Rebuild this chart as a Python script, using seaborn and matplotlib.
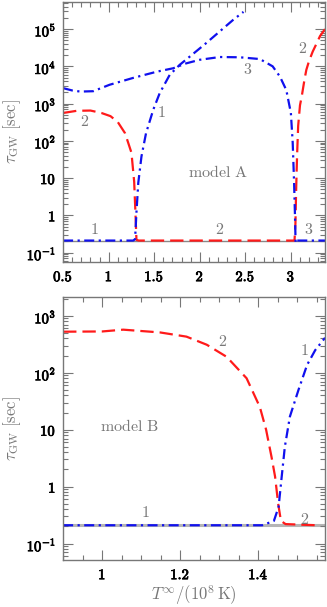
import seaborn as sns
import matplotlib.pyplot as plt
import matplotlib.ticker as mticker
import matplotlib.patheffects as pe
import pandas as pd
import numpy as np

# -----------------------------
# Data
# -----------------------------
# model A
a_red_x = [0.5, 0.65, 0.8, 0.92, 1.02, 1.1, 1.18, 1.25, 1.28, 1.295, 1.305, 1.33, 2.0, 3.04,
           3.05, 3.058, 3.068, 3.08, 3.1, 3.12, 3.15, 3.17, 3.2, 3.24, 3.28, 3.32, 3.375]
a_red_y = [560, 640, 650, 560, 460, 320, 160, 48, 8, 1, 0.22, 0.21, 0.21, 0.21,
           0.6, 5, 40, 250, 900, 1600, 4500, 8100, 14000, 25000, 40000, 65000, 100000]

a_blue1_x = [0.5, 1.0, 1.27, 1.29, 1.305, 1.325, 1.36, 1.41, 1.49, 1.56, 1.67, 1.78, 1.91,
             2.07, 2.22, 2.37, 2.48]
a_blue1_y = [0.21, 0.21, 0.21, 0.23, 1.2, 7.4, 38, 160, 690, 1900, 5900, 11000, 20000,
             42000, 87000, 180000, 290000]

a_blue3_x = [0.5, 0.6, 0.69, 0.83, 1.01, 1.27, 1.53, 1.71, 1.85, 2.0, 2.22, 2.44, 2.66,
             2.8, 2.88, 2.95, 3.0, 3.02, 3.035, 3.045, 3.052, 3.065, 3.375]
a_blue3_y = [2600, 2250, 2100, 2150, 3200, 4900, 7200, 8900, 12000, 15000, 17800, 17500,
             15700, 10000, 5300, 2300, 560, 90, 8, 1, 0.18, 0.21, 0.21]

# model B
b_red_x = [0.9, 1.0, 1.054, 1.148, 1.216, 1.268, 1.319, 1.37, 1.404, 1.42, 1.434, 1.443,
           1.451, 1.458, 1.47, 1.55]
b_red_y = [525, 530, 570, 510, 430, 310, 190, 80, 25, 10, 3.3, 1.5, 0.5, 0.25, 0.22, 0.21]

b_blue_x = [0.9, 1.2, 1.41, 1.44, 1.452, 1.46, 1.468, 1.481, 1.503, 1.525, 1.546, 1.571]
b_blue_y = [0.21, 0.21, 0.21, 0.25, 0.44, 1.5, 5, 17, 50, 137, 250, 410]

base_level = 0.21

# curve labels: (x, y, text)
a_labels = [(0.84, 0.42, "1"), (2.22, 0.42, "2"), (3.2, 0.42, "3"), (0.73, 330, "2"),
            (1.58, 560, "1"), (2.52, 8100, "3"), (3.13, 31000, "2")]
b_labels = [(1.309, 350, "2"), (1.517, 250, "1"), (1.11, 0.35, "1"), (1.518, 0.27, "2")]

# -----------------------------
# Styling
# -----------------------------
sns.set_style("ticks")
plt.rcParams["mathtext.fontset"] = "cm"
plt.rcParams["font.family"] = ["DejaVu Serif"]

GREY = "#777777"
RED = "#ff1a1a"
BLUE = "#1010ee"
DASH = (6, 2.7)
DASHDOT = (4.5, 2, 1, 2)

fig = plt.figure(figsize=(3.27, 6.07), dpi=100)
ax1 = fig.add_axes([0.193, 0.568, 0.801, 0.429])
ax2 = fig.add_axes([0.193, 0.077, 0.801, 0.434])

bold = [pe.withStroke(linewidth=0.55, foreground="black")]


def draw(ax, x, y, color, dashes):
    df = pd.DataFrame({"x": x, "y": y})
    sns.lineplot(data=df, x="x", y="y", ax=ax, color=color, lw=1.6,
                 estimator=None, sort=False)
    ax.lines[-1].set_dashes(dashes)


def log_fmt(v, pos):
    e = int(round(np.log10(v)))
    if e == 0:
        return r"$\mathbf{1}$"
    if e == 1:
        return r"$\mathbf{10}$"
    return r"$\mathbf{10^{%d}}$" % e


def xfmt(v, pos):
    s = ("%.1f" % v).rstrip("0").rstrip(".")
    return r"$\mathbf{%s}$" % s


def style(ax, xlim, ylim, xmajor, xminor, base_kw):
    ax.set_yscale("log")
    ax.set_xlim(*xlim)
    ax.set_ylim(*ylim)
    ax.axhline(base_level, zorder=0, **base_kw)
    ax.yaxis.set_major_locator(mticker.LogLocator(base=10, numticks=20))
    ax.yaxis.set_minor_locator(mticker.LogLocator(base=10, subs=np.arange(2, 10), numticks=20))
    ax.yaxis.set_major_formatter(mticker.FuncFormatter(log_fmt))
    ax.yaxis.set_minor_formatter(mticker.NullFormatter())
    ax.xaxis.set_major_locator(mticker.MultipleLocator(xmajor))
    ax.xaxis.set_minor_locator(mticker.MultipleLocator(xminor))
    ax.xaxis.set_major_formatter(mticker.FuncFormatter(xfmt))
    ax.tick_params(which="both", direction="in", top=True, right=True, colors=GREY,
                   labelcolor="black", labelsize=10.5, width=0.8)
    ax.tick_params(which="major", length=7, pad=5)
    ax.tick_params(which="minor", length=3.5)
    for s in ax.spines.values():
        s.set_color(GREY)
        s.set_linewidth(1.0)
    ax.set_ylabel(r"$\tau_{\rm GW}\ [{\rm sec}]$", color=GREY, fontsize=12, labelpad=3)
    ax.set_xlabel("")
    fig.canvas.draw()
    for lab in ax.get_xticklabels() + ax.get_yticklabels():
        lab.set_path_effects(bold)


# -----------------------------
# model A
# -----------------------------
draw(ax1, a_red_x, a_red_y, RED, DASH)
draw(ax1, a_blue1_x, a_blue1_y, BLUE, DASHDOT)
draw(ax1, a_blue3_x, a_blue3_y, BLUE, DASHDOT)
style(ax1, (0.5, 3.375), (0.055, 5.4e5), 0.5, 0.1, dict(color="#888888", lw=1.0))
for x, y, t in a_labels:
    ax1.text(x, y, r"$\mathrm{%s}$" % t, color=GREY, fontsize=11.5, ha="center", va="center")
ax1.text(2.2, 14, r"$\mathrm{model\ A}$", color=GREY, fontsize=11.5, ha="center", va="center")

# -----------------------------
# model B
# -----------------------------
draw(ax2, b_red_x, b_red_y, RED, DASH)
draw(ax2, b_blue_x, b_blue_y, BLUE, DASHDOT)
style(ax2, (0.9, 1.571), (0.051, 2150), 0.2, 0.05, dict(color="#b5b5b5", lw=2.2))
for x, y, t in b_labels:
    ax2.text(x, y, r"$\mathrm{%s}$" % t, color=GREY, fontsize=11.5, ha="center", va="center")
ax2.text(1.07, 11.5, r"$\mathrm{model\ B}$", color=GREY, fontsize=11.5, ha="center", va="center")
ax2.set_xlabel(r"$T^{\infty}/(10^8\,{\rm K})$", color=GREY, fontsize=12, labelpad=1)

plt.savefig("out.png", dpi=100)
plt.close()
